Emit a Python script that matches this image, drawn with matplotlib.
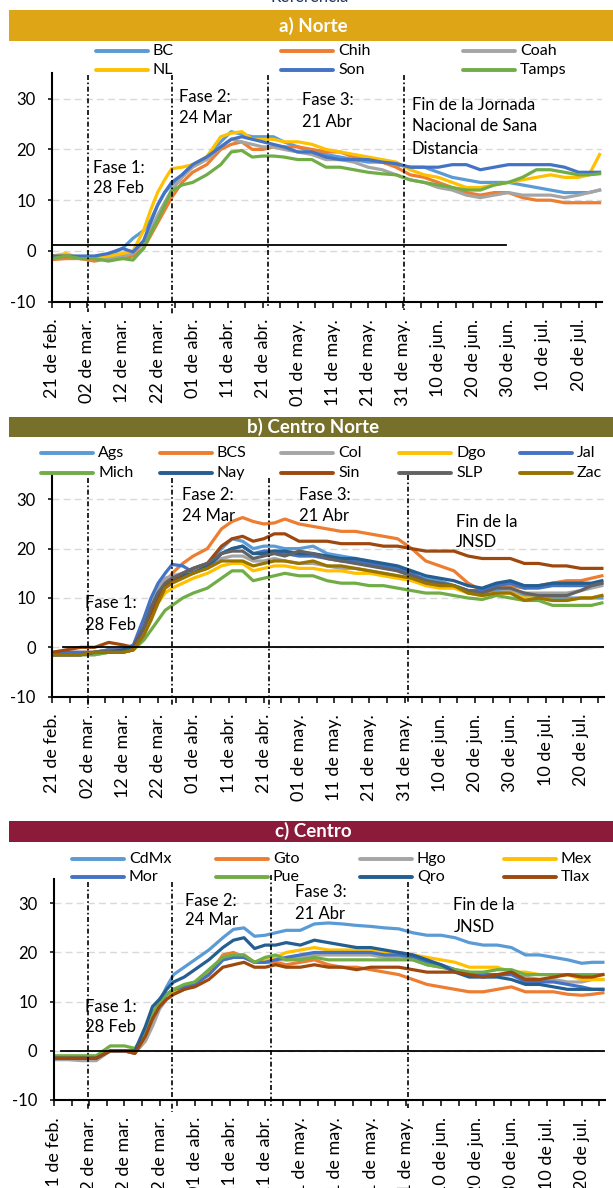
import matplotlib
matplotlib.use('Agg')
import matplotlib.pyplot as plt
from matplotlib.lines import Line2D
from matplotlib.patches import Rectangle

W, H = 613, 1188

# sample days, counted from 21 feb 2020
days = [0, 4, 8, 12, 16, 20, 23, 26, 28, 30,
        32, 34, 37, 40, 44, 48, 51, 54, 57, 60,
        63, 66, 70, 74, 78, 82, 86, 90, 94, 98,
        102, 106, 110, 114, 118, 122, 126, 130, 134, 138,
        142, 146, 150, 153, 156]

tick_days = [0, 5, 10, 15, 20, 25, 30, 35, 40, 45, 50, 55, 60, 65, 70, 75,
             80, 85, 90, 95, 100, 105, 110, 115, 120, 125, 130, 135, 140, 145, 150, 155]
label_days = [0, 10, 20, 30, 40, 50, 60, 70, 80, 90, 100, 110, 120, 130, 140, 150]
date_labels = ['21 de feb.', '02 de mar.', '12 de mar.', '22 de mar.', '01 de abr.',
               '11 de abr.', '21 de abr.', '01 de may.', '11 de may.', '21 de may.',
               '31 de may.', '10 de jun.', '20 de jun.', '30 de jun.', '10 de jul.',
               '20 de jul.']
y_ticks = [-10, 0, 10, 20, 30]

# a) Norte
norte_names = ['BC', 'Chih', 'Coah', 'NL', 'Son', 'Tamps']
bc = [-1, -1, -1.5, -1.5, -1, 0.5, 2.5, 4, 6, 9,
      11.5, 13, 15, 17, 18.5, 21.5, 23.5, 23, 22.5, 22.5,
      22.5, 21.5, 20.5, 19.5, 19, 18.5, 18, 17.5, 17.5, 17,
      16.5, 16.5, 15.5, 14.5, 14, 13.5, 13.5, 13.5, 13, 12.5,
      12, 11.5, 11.5, 11.5, 12]
chih = [-1.7, -1.5, -1.5, -2, -1.5, -1.5, -1, 0.5, 3, 5.5,
        8, 10.5, 13.5, 15.5, 17, 20, 21, 21.5, 20, 20,
        20.5, 20.5, 20.5, 20, 19.5, 19.5, 18.5, 18, 17.5, 16.5,
        15, 14.5, 13.5, 12.5, 11.5, 11, 11.5, 11.5, 10.5, 10,
        10, 9.5, 9.5, 9.5, 9.5]
coah = [-1, -1, -1.5, -1.5, -1.5, -1, -0.5, 1.5, 4, 7,
        9.5, 12, 14.5, 16.5, 18, 20.5, 22, 21.5, 21, 20.5,
        20.5, 20, 19.5, 19, 18, 18, 17.5, 16.5, 16, 15,
        14, 13.5, 12.5, 12, 11, 10.5, 11, 11.5, 11, 11,
        11, 10.5, 11, 11.5, 12]
nl = [-1, -0.5, -1.5, -1.5, -1, -0.5, 0, 4, 8, 11.5,
      14, 16.2, 16.5, 17, 18.5, 22.5, 23.2, 23.5, 22, 22,
      22, 21.5, 21.5, 21, 20, 19.5, 19, 18.5, 18, 17.5,
      16, 15, 14.5, 13.5, 12.5, 12.5, 13, 13.5, 14, 14.5,
      15, 14.5, 14.5, 15, 19]
son = [-1, -1, -1, -1, -0.5, 0.5, -0.2, 2, 5.5, 9,
       11.5, 13.5, 15, 17, 18.5, 20.5, 22, 22.5, 22, 21.5,
       21, 20.5, 19.5, 19.5, 18.5, 18, 18, 18, 17.5, 17.2,
       16.5, 16.5, 16.5, 17, 17, 16, 16.5, 17, 17, 17,
       17, 16.5, 15.5, 15.5, 15.5]
tamps = [-1.5, -1, -1.5, -1.5, -2, -1.5, -1.8, 0.5, 3.5, 6,
         9, 11.8, 13, 13.5, 15, 17, 19.5, 19.8, 18.5, 18.7,
         18.7, 18.5, 18, 18, 16.5, 16.5, 16, 15.5, 15.2, 15,
         14, 13.5, 13, 12.5, 12, 12, 13, 13.5, 14.5, 16,
         16, 15.5, 15, 15, 15.2]

# b) Centro Norte
cnorte_names = ['Ags', 'BCS', 'Col', 'Dgo', 'Jal', 'Mich', 'Nay', 'Sin', 'SLP', 'Zac']
ags = [-1.5, -1.5, -1.5, -1, -0.5, -0.5, 0, 4, 8, 11,
       13, 14, 15, 16, 17, 20, 22, 21.5, 20, 20.5,
       20.5, 20, 20, 20.5, 19, 18.5, 18, 17, 16.5, 15.5,
       14.5, 14, 13.5, 12.5, 11, 11, 11.5, 11.5, 10.5, 10.5,
       10, 10, 10, 10, 10]
bcs = [-1.5, -1, -1, -1, -0.5, -0.5, 0, 4, 8, 11,
       13, 15, 17, 18.5, 20, 24, 25.5, 26.3, 25.5, 25,
       25.2, 26, 25, 24.5, 24, 23.5, 23.5, 23, 22.5, 22,
       20, 17.5, 16.5, 15.5, 13, 11.5, 12.5, 12.5, 12, 12.5,
       13, 13.5, 13.5, 14, 14.5]
col = [-1.5, -1.5, -1.5, -1.5, -1, -0.5, 0, 5, 9, 12,
       14, 14.5, 15, 15.5, 16.5, 18, 18.5, 18.5, 17.5, 17.5,
       18, 17.5, 17, 17, 16.5, 16, 16, 15.5, 15, 14.5,
       14, 13.5, 13, 12.5, 11.5, 11, 12, 11.5, 11, 11,
       11, 11, 11.5, 12, 12.5]
dgo = [-1.5, -1.5, -1.5, -1, -1, -1, -0.5, 3, 6, 9,
       11, 12, 13, 14, 15, 16.5, 17, 17, 15.5, 16,
       16.5, 16.5, 16, 16, 15.5, 15.5, 15, 15, 14.5, 14,
       13.5, 12.5, 12, 12, 11, 10.5, 11, 11, 10, 10,
       9.5, 9.5, 10, 10, 10.5]
jal = [-1, -1, -1, -1, -0.5, -0.5, 0.5, 6, 10, 13,
       15, 16.8, 16.5, 15.2, 16, 19, 20, 20.5, 19, 19.5,
       19.5, 19, 18.5, 18.5, 18, 17.5, 17.5, 17, 16.5, 16,
       15, 13.5, 13, 12.5, 11.5, 11.5, 12.5, 13, 12, 12,
       12.5, 12.5, 12.5, 12.5, 13]
mich = [-1.5, -1.5, -1.5, -1.5, -1, -1, -0.5, 1.5, 3.5, 5.5,
        7.5, 8.5, 10, 11, 12, 14, 15.5, 15.5, 13.5, 14,
        14.5, 15, 14.5, 14.5, 13.5, 13, 13, 12.5, 12.5, 12,
        11.5, 11, 11, 10.5, 10, 9.7, 10.5, 10, 9.5, 9.5,
        8.5, 8.5, 8.5, 8.5, 9]
nay = [-1.5, -1.5, -1.5, -1, -1, -0.5, 0, 4, 8, 11,
       12.5, 13.5, 14.5, 15, 16.5, 19, 20, 20.5, 19, 19,
       19.5, 19.5, 19, 19, 18.5, 18, 18, 17.5, 17, 16.5,
       15.5, 14.5, 14, 13.5, 12.5, 12, 13, 13.5, 12.5, 12.5,
       13, 13, 13, 13, 13.5]
sin = [-1, -0.5, 0, 0, 1, 0.5, 0, 4, 7, 10,
       12.5, 13.5, 15, 16, 17, 20.5, 22, 22.5, 21.5, 22,
       23, 23, 21.5, 21.5, 21.5, 21, 21, 21, 20.5, 20.5,
       20, 19.5, 19.5, 19.5, 18.5, 18, 18, 18, 17, 17,
       16.5, 16.5, 16, 16, 16]
slp = [-1.5, -1.5, -1.5, -1, -1, -1, -0.5, 4, 8, 11,
       13, 14, 15, 16, 17, 19, 19.5, 19.5, 18, 18.5,
       19, 18.5, 19.5, 19, 18, 17.5, 17, 16.5, 16, 15.5,
       14.5, 13.5, 13, 12.5, 11.5, 11, 12, 12, 11, 10.5,
       10.5, 10.5, 11.5, 12.5, 13]
zac = [-1.5, -1.5, -1.5, -1, -1, -1, -0.5, 2.5, 5.5, 9,
       12, 13, 14, 15, 16, 17.5, 17.5, 17.5, 16.5, 17,
       17.5, 17.5, 17, 17.5, 16.5, 16.5, 16, 15.5, 15, 14.5,
       14, 13, 12.5, 12.5, 11, 10.5, 11, 11, 9.5, 10,
       9.5, 9.5, 10, 10, 10.5]

# c) Centro
centro_names = ['CdMx', 'Gto', 'Hgo', 'Mex', 'Mor', 'Pue', 'Qro', 'Tlax']
cdmx = [-1.5, -1.5, -1.5, -1.5, 0, 0, 0, 4, 7, 10,
        13, 15.5, 17, 18.5, 20.5, 23, 24.7, 25, 23.3, 23.5,
        24, 24.5, 24.5, 25.8, 26, 25.8, 25.5, 25.3, 25, 24.8,
        24, 23.5, 23.5, 23, 22, 21.5, 21.5, 21, 19.5, 19.5,
        19, 18.5, 17.8, 18, 18]
gto = [-1.5, -1.5, -1.5, -1.5, 0, 0, -0.5, 3, 7, 9,
       10.5, 11.5, 12.5, 13.5, 15.5, 19.5, 20, 19, 18, 18,
       18, 17.5, 18, 18.5, 17.5, 17, 17, 16.5, 16, 15.5,
       14.5, 13.5, 13, 12.5, 12, 12, 12.5, 13, 12, 12,
       12, 11.5, 11.3, 11.5, 11.8]
hgo = [-1.8, -1.8, -2, -2, 0, 0, -0.5, 2, 5, 8.5,
       10.5, 11.5, 12.5, 13.5, 15.5, 18.5, 19, 19, 18, 18,
       18.5, 18.5, 19, 19.5, 19.5, 19.5, 19.5, 19.5, 19, 19,
       18.5, 17.5, 17, 16.5, 16, 15.5, 15.5, 15.5, 15, 14.5,
       14.5, 14, 14, 14.5, 14.5]
mex = [-1.5, -1.5, -1.5, -1.5, 0, 0, -0.5, 3, 7, 9.5,
       11, 12, 13, 14, 16, 19, 19.5, 19.5, 18, 18.5,
       19, 20, 20.5, 21, 20.5, 20.5, 20.5, 20.5, 20, 20,
       19.5, 19, 18.5, 18, 17, 17, 17, 16, 16, 15.5,
       15.5, 15.5, 14.5, 14.5, 14.5]
mor = [-1.5, -1.5, -1.5, -1.5, 0, 0, -0.5, 3.5, 7.5, 10,
       11.5, 12.5, 13, 13.5, 15.5, 18.5, 19, 19, 18, 18,
       18.5, 19, 19.5, 20, 20, 20, 20, 20, 19.5, 19.5,
       19, 18, 17.5, 16.5, 15.5, 15.5, 15.5, 15.5, 14, 14,
       14, 13.5, 13, 12.5, 12.5]
pue = [-1, -1, -1, -1, 1, 1, 0.5, 3.5, 7.5, 10,
       11.5, 12.5, 13.5, 14, 16.5, 19, 19.5, 19.5, 18, 19,
       19.5, 18.5, 18.5, 19, 18.5, 18.5, 18.5, 18.5, 18.5, 18.5,
       18.5, 17.5, 17, 16.5, 16, 16, 16.5, 16.5, 15.5, 15.5,
       15.5, 15.5, 15.5, 15.5, 15.5]
qro = [-1.5, -1.5, -1.5, -1.5, 0, 0, 0, 5, 9, 10.5,
       12.5, 14, 15, 16.5, 18.5, 21, 22.5, 23, 20.8, 21.5,
       21.5, 22, 21.5, 22.5, 22, 21.5, 21, 21, 20.5, 20,
       19.5, 18.5, 17.5, 16, 15, 15, 15, 14.5, 13.5, 13.5,
       13, 12.5, 12.5, 12.5, 12.5]
tlax = [-1.5, -1.5, -1.5, -1.5, 0, 0, -0.5, 3, 6.5, 9,
        10.5, 11.5, 12.5, 13, 14.5, 17, 17.5, 18, 17, 17,
        17.5, 17, 17, 17.5, 17, 17, 16.5, 17, 17, 17,
        16.5, 16, 16, 16, 15.5, 15, 15.5, 16, 14.5, 14.5,
        15, 15.5, 15, 15, 15.5]

# excel office palette
PALETTE = ['#5B9BD5', '#ED7D31', '#A5A5A5', '#FFC000', '#4472C4',
           '#70AD47', '#255E91', '#9E480E', '#636363', '#997300']
DASH = (0, (3, 1.5, 1, 1.5))

plt.rcParams['font.family'] = ['Lato', 'DejaVu Sans']
plt.rcParams['axes.unicode_minus'] = False


def px(x, y):
    # pixel position (from top-left) -> figure fraction
    return x / W, 1 - y / H


def title_bar(fig, top, bottom, text, color):
    x0, y0 = px(9, bottom)
    fig.add_artist(Rectangle((x0, y0), 1 - x0, (bottom - top) / H, transform=fig.transFigure,
                             facecolor=color, edgecolor='none'))
    fig.text(313 / W, 1 - (top + bottom) / 2 / H, text, color='white', fontsize=13.5,
             fontweight='bold', ha='center', va='center')


def legend_grid(fig, names, col_x, row_y):
    ncol = len(col_x)
    for i, name in enumerate(names):
        x = col_x[i % ncol]
        y = 1 - row_y[i // ncol] / H
        fig.add_artist(Line2D([x / W, (x + 52) / W], [y, y], transform=fig.transFigure,
                              color=PALETTE[i], lw=2.8, solid_capstyle='round'))
        fig.text((x + 57) / W, y, name, fontsize=11.5, ha='left', va='center')


def panel(fig, box, series, phase_x, phase_top, phase_bottom, notes, base):
    left, top, right, bottom = box
    ax = fig.add_axes([left / W, 1 - bottom / H, (right - left) / W, (bottom - top) / H])

    for i, values in enumerate(series):
        ax.plot(days, values, color=PALETTE[i], lw=2.3, solid_joinstyle='round')

    ax.set_xlim(0, 156.6)
    ax.set_ylim(-10, 35)
    ax.set_yticks(y_ticks)
    ax.set_xticks(label_days)
    ax.set_xticklabels(date_labels)
    ax.set_xticks(tick_days, minor=True)
    ax.yaxis.grid(True, color='#D9D9D9', linestyle=(0, (5, 3)), lw=1)
    ax.set_axisbelow(True)

    for side in ('top', 'right'):
        ax.spines[side].set_visible(False)
    for side in ('left', 'bottom'):
        ax.spines[side].set_linewidth(1.5)

    ax.tick_params(axis='x', which='both', direction='out', length=4.3, width=1.1,
                   pad=8, labelsize=13, labelrotation=90)
    ax.tick_params(axis='y', direction='out', length=2.9, width=1.1, pad=9, labelsize=12)

    x0, x1, yb = base
    ax.plot([x0, x1], [yb, yb], color='black', lw=1.3, zorder=3)

    for x, t, b in zip(phase_x, phase_top, phase_bottom):
        ax.plot([x, x], [t, b], color='black', lw=1.2, linestyle=DASH, clip_on=False, zorder=4)

    for x, y, text in notes:
        ax.text(x, y, text, fontsize=12, ha='left', va='center', zorder=5)
    return ax


def main():
    fig = plt.figure(figsize=(W / 100, H / 100), dpi=100)

    fig.text(310 / W, 1 - 2.5 / H, 'Referencia', color='#1F3864', fontsize=12,
             ha='center', va='baseline')

    # a) Norte
    title_bar(fig, 10, 41, 'a) Norte', '#DEA516')
    legend_grid(fig, norte_names, [96, 281, 463], [51, 70])
    panel(fig, (52.3, 73.3, 601.7, 301.7), [bc, chih, coah, nl, son, tamps],
          [10.1, 34.0, 61.4, 100.3], [34.7] * 4, [-12.0, -12.6, -11.2, -11.6],
          [(11.5, 16.3, 'Fase 1:'), (11.5, 12.4, '28 Feb'),
           (36.1, 30.4, 'Fase 2:'), (36.1, 26.1, '24 Mar'),
           (71.3, 29.7, 'Fase 3:'), (71.3, 25.5, '21 Abr'),
           (102.4, 28.8, 'Fin de la Jornada'), (102.4, 24.6, 'Nacional de Sana'),
           (102.4, 20.0, 'Distancia')],
          (0, 129.2, 1.1))

    # b) Centro Norte
    title_bar(fig, 416.7, 437.3, 'b) Centro Norte', '#76702A')
    legend_grid(fig, cnorte_names, [41, 160, 281, 399, 520], [453.3, 472.7])
    panel(fig, (52.4, 474.6, 604, 696.7), [ags, bcs, col, dgo, jal, mich, nay, sin, slp, zac],
          [10.2, 34.0, 61.5, 100.9], [34.3, 34.3, 34.3, 34.9], [-12.3, -12.0, -12.3, -11.0],
          [(9.3, 9.0, 'Fase 1:'), (9.3, 4.5, '28 Feb'),
           (36.9, 30.9, 'Fase 2:'), (36.9, 26.6, '24 Mar'),
           (70, 30.9, 'Fase 3:'), (70, 26.6, '21 Abr'),
           (114.6, 25.3, 'Fin de la'), (114.6, 21.3, 'JNSD')],
          (2.9, 156.6, 0))

    # c) Centro
    title_bar(fig, 820.7, 841.7, 'c) Centro', '#8C1B3B')
    legend_grid(fig, centro_names, [72, 216, 360, 504], [859, 876.7])
    panel(fig, (54, 878.7, 605, 1100), [cdmx, gto, hgo, mex, mor, pue, qro, tlax],
          [9.7, 33.5, 61.8, 100.5], [34.4, 34.4, 35.8, 34.4], [-12.0, -12.4, -11.6, -11.6],
          [(8.7, 9.0, 'Fase 1:'), (8.7, 4.8, '28 Feb'),
           (37.1, 30.5, 'Fase 2:'), (37.1, 26.6, '24 Mar'),
           (68.5, 32.2, 'Fase 3:'), (68.5, 27.8, '21 Abr'),
           (113.5, 29.7, 'Fin de la'), (113.5, 25.2, 'JNSD')],
          (2, 156.3, 0))

    fig.savefig('out.png', dpi=100)


if __name__ == '__main__':
    main()
